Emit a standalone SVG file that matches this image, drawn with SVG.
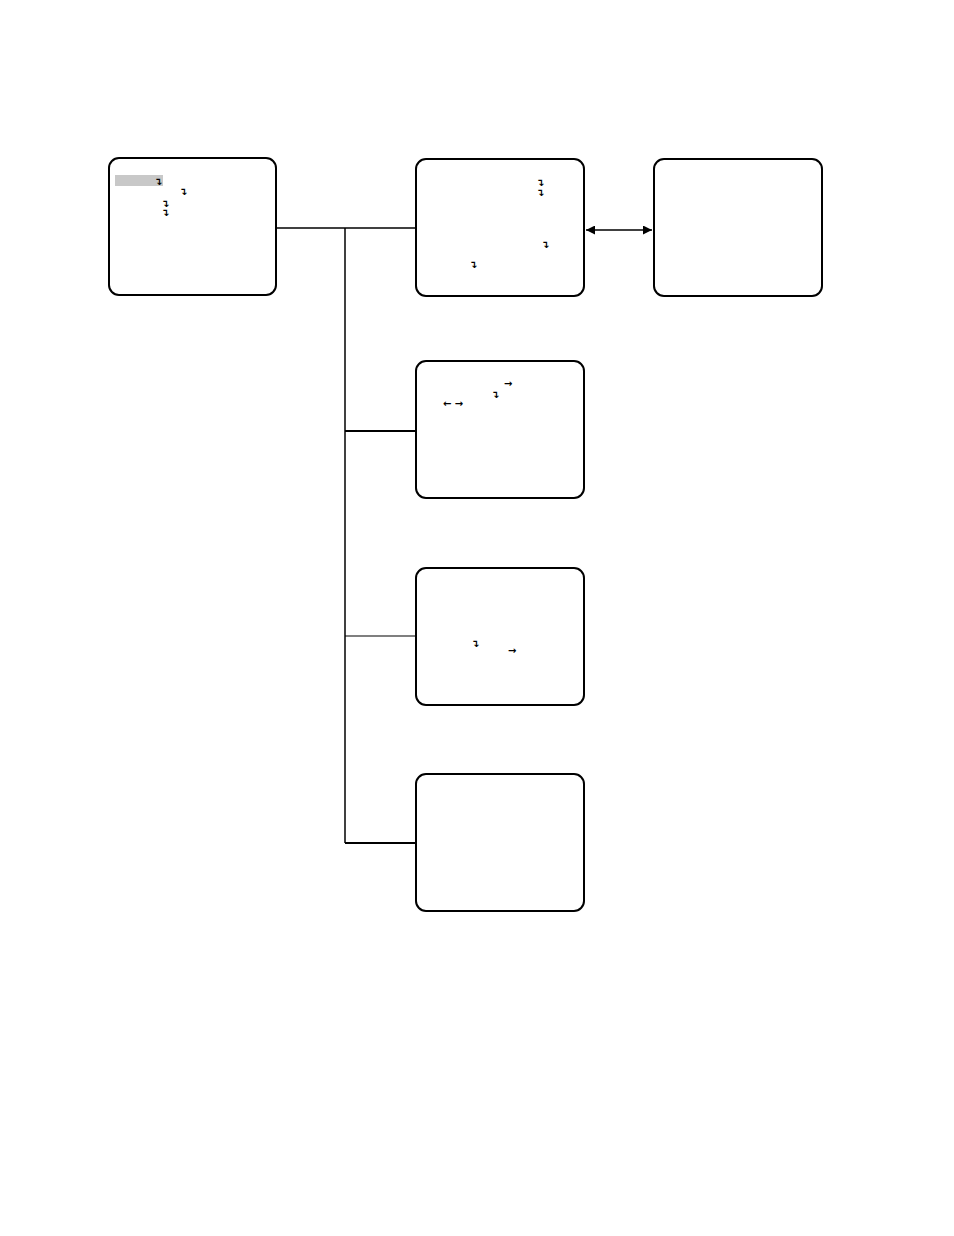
<svg xmlns="http://www.w3.org/2000/svg" width="954" height="1236" viewBox="0 0 954 1236">
<defs>
<style>
.box{fill:#fff;stroke:#000;stroke-width:2}
.ln{stroke:#000;fill:none}
.g{font-family:"DejaVu Sans",sans-serif;font-size:10px;font-weight:bold;fill:#000}
</style>
<marker id="ah" viewBox="0 0 10 10" refX="10" refY="5" markerWidth="12" markerHeight="9" orient="auto-start-reverse" markerUnits="userSpaceOnUse">
<path d="M0,0 L10,5 L0,10 z" fill="#000"/>
</marker>
</defs>
<rect width="954" height="1236" fill="#fff"/>
<g id="connectors">
<line class="ln" x1="276" y1="228" x2="416" y2="228" stroke-width="1.5"/>
<line class="ln" x1="345" y1="228" x2="345" y2="843" stroke-width="1.5"/>
<line class="ln" x1="345" y1="431" x2="416" y2="431" stroke-width="2"/>
<line class="ln" x1="345" y1="636" x2="416" y2="636" stroke-width="1.2"/>
<line class="ln" x1="345" y1="843" x2="416" y2="843" stroke-width="2"/>
<line class="ln" x1="586" y1="230" x2="652" y2="230" stroke-width="1.5" marker-start="url(#ah)" marker-end="url(#ah)"/>
</g>
<g id="node-main">
<rect class="box" x="109" y="158" width="167" height="137" rx="10"/>
<rect x="115" y="175" width="48" height="11" fill="#c8c8c8"/>
<text class="g" x="154" y="185">↴</text>
<text class="g" x="179" y="195">↴</text>
<text class="g" x="161" y="207">↴</text>
<text class="g" x="161" y="216">↴</text>
</g>
<g id="node-1">
<rect class="box" x="416" y="159" width="168" height="137" rx="10"/>
<text class="g" x="536" y="186">↴</text>
<text class="g" x="536" y="196">↴</text>
<text class="g" x="541" y="248">↴</text>
<text class="g" x="469" y="268">↴</text>
</g>
<g id="node-1b">
<rect class="box" x="654" y="159" width="168" height="137" rx="10"/>
</g>
<g id="node-2">
<rect class="box" x="416" y="361" width="168" height="137" rx="10"/>
<text class="g" x="504" y="387">→</text>
<text class="g" x="491" y="398">↴</text>
<text class="g" x="443" y="407">← →</text>
</g>
<g id="node-3">
<rect class="box" x="416" y="568" width="168" height="137" rx="10"/>
<text class="g" x="471" y="647">↴</text>
<text class="g" x="508" y="654">→</text>
</g>
<g id="node-4">
<rect class="box" x="416" y="774" width="168" height="137" rx="10"/>
</g>
</svg>
